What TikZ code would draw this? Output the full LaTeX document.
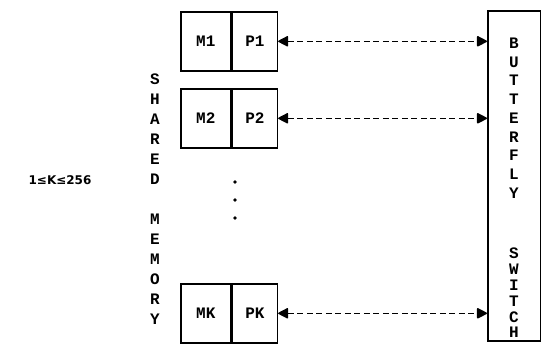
\documentclass[tikz,border=0pt]{standalone}
\usepackage{fontspec}
\setmonofont{Liberation Mono}
\newfontfamily\rangefont{DejaVu Sans}
\usetikzlibrary{arrows.meta, positioning}

\begin{document}
\begin{tikzpicture}[
  x=1pt, y=-1pt,
  memcell/.style  = {rectangle, draw, line width=1.6pt,
                     minimum width=50pt, minimum height=59pt, inner sep=0pt,
                     font=\ttfamily\bfseries\fontsize{16}{16}\selectfont},
  proccell/.style = {memcell, minimum width=45pt},
  switchbox/.style = {rectangle, draw, line width=1.6pt,
                     minimum width=53pt, minimum height=330pt, inner sep=0pt},
  vtext/.style    = {align=center, inner sep=0pt,
                     font=\ttfamily\bfseries\fontsize{16}{#1}\selectfont},
  link/.style     = {{Triangle[length=11pt,width=11pt,round]}-{Triangle[length=11pt,width=11pt,round]},
                     line width=1.6pt, dash pattern=on 6pt off 3.5pt},
]
\useasboundingbox (0,0) rectangle (541,343);

%% Memory / processor pairs
\node[memcell, anchor=north west] (m1) at (180,11) {M1};
\node[proccell, right=0pt of m1]  (p1) {P1};

\node[memcell, anchor=north west] (m2) at (180,88) {M2};
\node[proccell, right=0pt of m2]  (p2) {P2};

\node[memcell, anchor=north west] (mk) at (180,283) {MK};
\node[proccell, right=0pt of mk]  (pk) {PK};

%% Switch
\node[switchbox, anchor=north west] (sw) at (487,10) {};

%% Connecting arrows
\foreach \p in {p1, p2, pk}
  \draw[link] (\p.east) -- (\p.east -| sw.west);

%% Ellipsis
\foreach \y in {182, 200, 218}
  \fill (235,\y) circle (1.8pt);

%% Vertical labels
\node[vtext=20] (shared) at (155,199)
  {S\\H\\A\\R\\E\\D\\[20pt]M\\E\\M\\O\\R\\Y};
\node[vtext=18.75] (bfly) at (514,118) {B\\U\\T\\T\\E\\R\\F\\L\\Y};
\node[vtext=15.8]  (swtc) at (514,293) {S\\W\\I\\T\\C\\H};

\node[font=\rangefont\bfseries\fontsize{12}{12}\selectfont] (range) at (60,180)
  {1≤K≤256};

\end{tikzpicture}
\end{document}
